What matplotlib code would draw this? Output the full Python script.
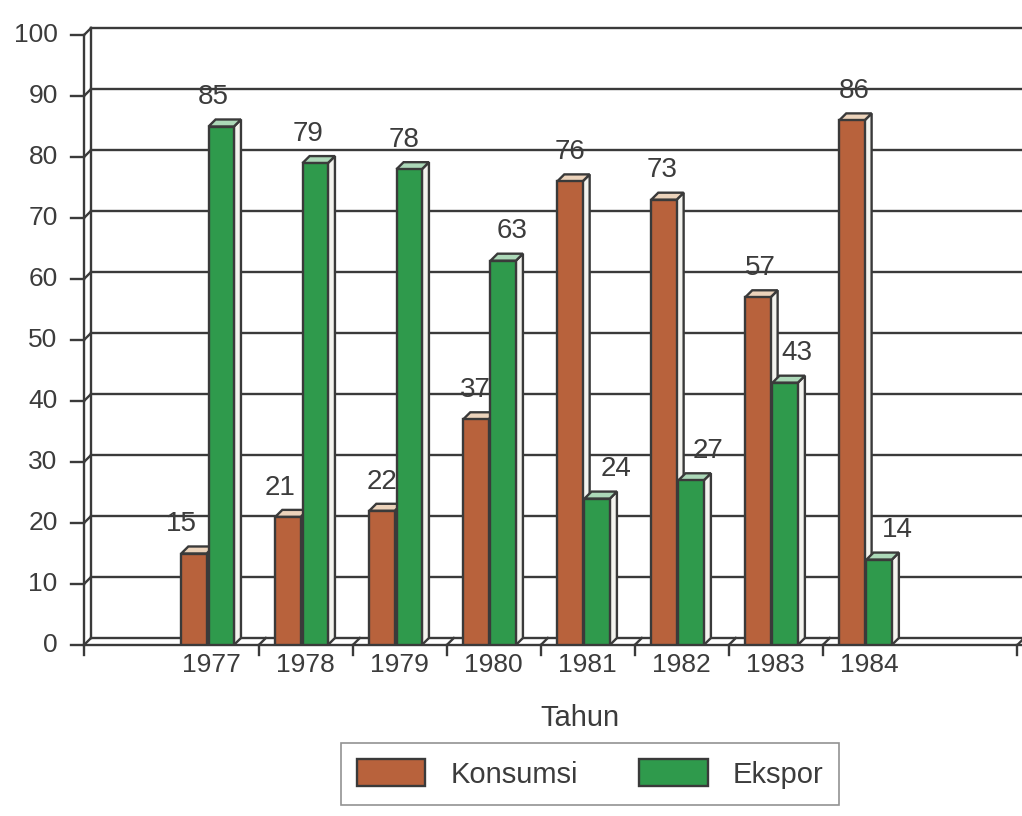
import numpy as np
import matplotlib
matplotlib.use('Agg')
import matplotlib.pyplot as plt
from matplotlib.patches import Polygon, Patch

plt.rcParams['font.family'] = ['Liberation Sans', 'DejaVu Sans']

# data
tahun = ['1977', '1978', '1979', '1980', '1981', '1982', '1983', '1984']
konsumsi = [15, 21, 22, 37, 76, 73, 57, 86]
ekspor = [85, 79, 78, 63, 24, 27, 43, 14]
y_ticks = [0, 10, 20, 30, 40, 50, 60, 70, 80, 90, 100]

# horizontal nudge of the value labels (the scan places them a bit off-center)
geser_k = [-0.13, -0.085, 0.0, -0.01, 0.0, -0.02, 0.03, 0.02]
geser_e = [-0.085, -0.075, -0.05, 0.095, 0.2, 0.18, 0.13, 0.19]

warna_k = '#b8623c'
warna_e = '#2f9a4c'
top_k = '#ecd3bb'
top_e = '#acd8b8'
side = '#f3f3ee'
garis = '#3a3a3a'
teks = '#3c3c3c'

# fake 3d depth
dx = 0.075
dy = 1.15
lebar = 0.27
xmin, xmax = -1.36, 8.62

fig = plt.figure(figsize=(10.22, 8.16), dpi=100)
ax = fig.add_axes([84 / 1022, 171 / 816, (1022 - 84) / 1022, 625 / 816])
ax.set_xlim(xmin, xmax)
ax.set_ylim(0, 102.46)
ax.axis('off')

lw = 1.7

# back wall grid + left wall
for v in y_ticks:
    ax.plot([xmin + dx, xmax], [v + dy, v + dy], color=garis, lw=lw, zorder=1, clip_on=False)
    ax.plot([xmin, xmin + dx], [v, v + dy], color=garis, lw=lw, zorder=1, clip_on=False)
    ax.plot([xmin - 0.14, xmin], [v, v], color=garis, lw=lw, zorder=1, clip_on=False)
    ax.text(-1.64, v, str(v), ha='right', va='center', fontsize=19, color=teks)
ax.plot([xmin, xmin], [0, 100], color=garis, lw=lw, zorder=1, clip_on=False)
ax.plot([xmin + dx, xmin + dx], [dy, 100 + dy], color=garis, lw=lw, zorder=1, clip_on=False)

# floor
ax.plot([xmin, xmax], [0, 0], color=garis, lw=lw, zorder=1, clip_on=False)
ax.plot([xmin, xmin], [0, -1.7], color=garis, lw=lw, zorder=1, clip_on=False)
for d in list(np.arange(0.5, 7, 1.0)) + [xmax - 0.05]:
    ax.plot([d, d], [0, -1.7], color=garis, lw=lw, zorder=1, clip_on=False)
    ax.plot([d, d + dx], [0, dy], color=garis, lw=lw, zorder=1, clip_on=False)

x = np.arange(len(tahun))
z = 2
for i in range(len(tahun)):
    for xi, v, c, ct, g in [(x[i] - 0.19, konsumsi[i], warna_k, top_k, geser_k[i]),
                            (x[i] + 0.10, ekspor[i], warna_e, top_e, geser_e[i])]:
        kiri, kanan = xi - lebar / 2, xi + lebar / 2
        sisi = Polygon([(kanan, 0), (kanan + dx, dy), (kanan + dx, v + dy), (kanan, v)],
                       closed=True, facecolor=side, edgecolor=garis, lw=lw, zorder=z)
        atas = Polygon([(kiri, v), (kiri + dx, v + dy), (kanan + dx, v + dy), (kanan, v)],
                       closed=True, facecolor=ct, edgecolor=garis, lw=lw, zorder=z)
        ax.add_patch(sisi)
        ax.add_patch(atas)
        ax.bar(xi, v, width=lebar, color=c, edgecolor=garis, linewidth=lw, zorder=z + 1)
        ax.text(xi + g, v + 4.8, str(v), ha='center', va='center', fontsize=20,
                color=teks, zorder=100)
        z += 2
    ax.text(x[i], -3.3, tahun[i], ha='center', va='center', fontsize=19, color=teks)

fig.text(580 / 1022, 1 - 718 / 816, 'Tahun', ha='center', va='center', fontsize=21, color=teks)

handles = [Patch(facecolor=warna_k, edgecolor=garis, lw=lw, label='Konsumsi'),
           Patch(facecolor=warna_e, edgecolor=garis, lw=lw, label='Ekspor')]
leg = fig.legend(handles=handles, loc='center', bbox_to_anchor=(590 / 1022, 1 - 774 / 816),
                 ncol=2, fontsize=21, frameon=True, fancybox=False, handlelength=2.35,
                 handleheight=1.0, handletextpad=0.85, columnspacing=2.1, borderpad=0.55,
                 borderaxespad=0)
leg.get_frame().set_edgecolor('#777777')
leg.get_frame().set_linewidth(1.2)
for t in leg.get_texts():
    t.set_color(teks)

plt.savefig('out.png', dpi=100)
